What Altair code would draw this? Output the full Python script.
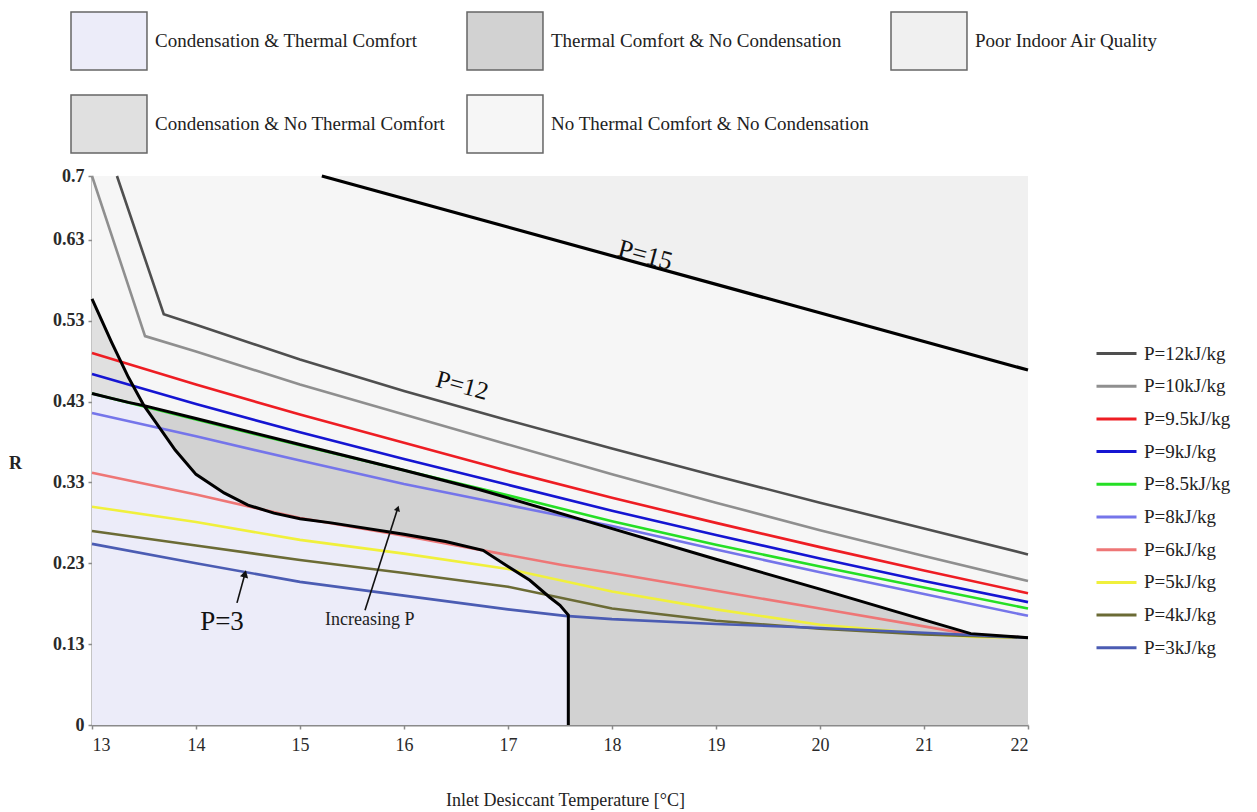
import altair as alt
import pandas as pd

# ---------------- data ----------------
SERIES = ["P=12kJ/kg", "P=10kJ/kg", "P=9.5kJ/kg", "P=9kJ/kg", "P=8.5kJ/kg",
          "P=8kJ/kg", "P=6kJ/kg", "P=5kJ/kg", "P=4kJ/kg", "P=3kJ/kg"]
COLORS = ["#4f4f4f", "#8f8f8f", "#ee1d23", "#1515d2", "#25df25",
          "#7575ea", "#ee7676", "#f0f03c", "#6b6b35", "#4b5cb3"]

T = [13, 14, 15, 16, 17, 18, 19, 20, 21, 22]

P12_X = [13.24, 13.69, 14, 15, 16, 17, 18, 19, 20, 21, 22]
P12_Y = [0.679, 0.508, 0.495, 0.452, 0.413, 0.377, 0.342, 0.308, 0.275, 0.243, 0.211]
P10_X = [13.0, 13.51, 14, 15, 16, 17, 18, 19, 20, 21, 22]
P10_Y = [0.679, 0.481, 0.462, 0.421, 0.384, 0.347, 0.310, 0.275, 0.241, 0.209, 0.178]
P95_Y = [0.460, 0.421, 0.384, 0.349, 0.314, 0.281, 0.250, 0.220, 0.191, 0.163]
P9_Y = [0.434, 0.397, 0.362, 0.329, 0.297, 0.265, 0.235, 0.206, 0.178, 0.152]
P85_Y = [0.410, 0.378, 0.346, 0.315, 0.284, 0.252, 0.223, 0.196, 0.170, 0.144]
P8_Y = [0.386, 0.357, 0.327, 0.298, 0.272, 0.246, 0.217, 0.189, 0.162, 0.135]
P6_X = [13, 14, 15, 16, 16.76, 17.52, 18, 19, 20, 21, 21.45, 22]
P6_Y = [0.312, 0.285, 0.256, 0.234, 0.216, 0.198, 0.188, 0.166, 0.144, 0.122, 0.112, 0.108]
P5_X = [13, 14, 15, 16, 17, 18, 19, 20, 21, 21.5, 22]
P5_Y = [0.270, 0.251, 0.229, 0.212, 0.193, 0.165, 0.143, 0.124, 0.113, 0.109, 0.108]
P4_Y = [0.240, 0.222, 0.204, 0.188, 0.171, 0.144, 0.129, 0.119, 0.112, 0.108]
P3_X = [13, 14, 15, 16, 17, 17.55, 18, 19, 20, 21, 22]
P3_Y = [0.224, 0.200, 0.177, 0.160, 0.143, 0.135, 0.131, 0.125, 0.120, 0.114, 0.108]

# black thermal-comfort boundary
BND_X = [13, 13.19, 13.35, 13.5, 14, 15, 16, 16.73, 17.92, 19, 20, 21, 21.45, 22]
BND_Y = [0.410, 0.404, 0.399, 0.395, 0.379, 0.347, 0.315, 0.291, 0.246, 0.205, 0.168, 0.130, 0.113, 0.108]
# black condensation curve
CUR_X = [13.0, 13.19, 13.35, 13.5, 13.61, 13.8, 14.0, 14.27, 14.5, 14.75, 15.0, 15.3,
         16.0, 16.4, 16.76, 17.0, 17.21, 17.4, 17.5, 17.58, 17.58]
CUR_Y = [0.527, 0.473, 0.430, 0.395, 0.375, 0.340, 0.310, 0.287, 0.272, 0.262, 0.255, 0.250,
         0.236, 0.227, 0.216, 0.196, 0.179, 0.158, 0.148, 0.136, 0.0]
# P=15 line
P15_X = [15.21, 22]
P15_Y = [0.679, 0.439]

# legend order (column-major in a 3-column legend)
REGIONS = ["Condensation & Thermal Comfort", "Condensation & No Thermal Comfort",
           "Thermal Comfort & No Condensation", "No Thermal Comfort & No Condensation",
           "Poor Indoor Air Quality"]
REGION_COLORS = ["#ececf9", "#e0e0e0", "#d2d2d2", "#f6f6f6", "#f0f0f0"]
CTC, CNTC, TCNC, NTCNC, PIAQ = REGIONS

X_TICKS = [13, 14, 15, 16, 17, 18, 19, 20, 21, 22]
Y_TICKS = [0, 0.1, 0.2, 0.3, 0.4, 0.5, 0.6, 0.679]
Y_LABELS = ["0", "0.13", "0.23", "0.33", "0.43", "0.53", "0.63", "0.7"]
Y_TOP = 0.679

FONT = "Liberation Serif"

# ---------------- tables ----------------
series_xy = [
    (P12_X, P12_Y), (P10_X, P10_Y), (T, P95_Y), (T, P9_Y), (T, P85_Y),
    (T, P8_Y), (P6_X, P6_Y), (P5_X, P5_Y), (T, P4_Y), (P3_X, P3_Y),
]
rows = []
for name, (xs, ys) in zip(SERIES, series_xy):
    for i, (a, b) in enumerate(zip(xs, ys)):
        rows.append({"series": name, "x": a, "y": b, "i": i})
lines_df = pd.DataFrame(rows)

def region_df(name, xs, ys, y2s):
    return pd.DataFrame({"region": name, "x": xs, "y": ys, "y2": y2s})

bg_df = region_df(NTCNC, [13, 22], [Y_TOP, Y_TOP], [0, 0])
piaq_df = region_df(PIAQ, P15_X, P15_Y, [Y_TOP, Y_TOP])
tcnc_df = region_df(TCNC, BND_X[3:], BND_Y[3:], [0] * len(BND_X[3:]))
ctc_df = region_df(CTC, [13] + CUR_X[3:-1], [BND_Y[0]] + CUR_Y[3:-1],
                   [0] * (len(CUR_X[3:-1]) + 1))
cntc_df = region_df(CNTC, CUR_X[:4], CUR_Y[:4], BND_Y[:4])

bnd_df = pd.DataFrame({"x": BND_X, "y": BND_Y, "i": range(len(BND_X))})
cur_df = pd.DataFrame({"x": CUR_X, "y": CUR_Y, "i": range(len(CUR_X))})
p15_df = pd.DataFrame({"x": P15_X, "y": P15_Y, "i": range(len(P15_X))})

labels_rot = pd.DataFrame({"x": [18.32, 16.56], "y": [0.581, 0.420], "t": ["P=15", "P=12"],
                           "s": [26, 25]})
labels_p3 = pd.DataFrame({"x": [14.25], "y": [0.127], "t": ["P=3"]})
labels_inc = pd.DataFrame({"x": [15.67], "y": [0.130], "t": ["Increasing P"]})

arrows = pd.DataFrame({"x": [14.394, 15.625], "y": [0.151, 0.142],
                       "x2": [14.471, 15.94], "y2": [0.187, 0.268],
                       "ang": [15, 18], "sz": [70, 40]})

# ---------------- encodings ----------------
y_expr = ""
for v, lab in zip(Y_TICKS, Y_LABELS):
    y_expr += f"abs(datum.value - {v}) < 0.001 ? '{lab}' : "
y_expr += "''"

X = alt.X("x:Q", scale=alt.Scale(domain=[13, 22], nice=False, zero=False),
          axis=alt.Axis(values=X_TICKS, format="d", title="Inlet Desiccant Temperature [°C]",
                        labelPadding=7, titleX=473, titleY=75, titleBaseline="middle",
                        titleFontWeight="normal"))
Y = alt.Y("y:Q", scale=alt.Scale(domain=[0, Y_TOP], nice=False, zero=False),
          axis=alt.Axis(values=Y_TICKS, labelExpr=y_expr, title="R", titleAngle=0,
                        titleX=-77, titleY=287, titleAlign="center", titleBaseline="middle",
                        labelFontWeight="bold", labelPadding=4, titleFontWeight="bold"))

fill_legend = alt.Legend(title=None, orient="none", legendX=-22, legendY=-165, columns=3,
                         symbolType="M-1,-1H1.62V1H-1Z", symbolSize=3364,
                         symbolStrokeColor="#666666", symbolStrokeWidth=1.5,
                         symbolOpacity=1, labelOffset=25, rowPadding=19, columnPadding=18,
                         labelFont=FONT, labelFontSize=19, labelColor="#222222",
                         labelLimit=500)
FILL = alt.Fill("region:N", scale=alt.Scale(domain=REGIONS, range=REGION_COLORS),
                legend=fill_legend)

def area_layer(df):
    return alt.Chart(df).mark_area(opacity=1, interpolate="linear").encode(
        x=X, y=Y, y2=alt.Y2("y2:Q"), fill=FILL)

color_legend = alt.Legend(title=None, orient="none", legendX=1003, legendY=156,
                          symbolType="stroke", symbolSize=1600, symbolStrokeWidth=3,
                          labelFont=FONT, labelFontSize=19, labelColor="#222222",
                          rowPadding=0.7, labelOffset=6, labelLimit=250)

lines = alt.Chart(lines_df).mark_line(strokeWidth=2.6).encode(
    x=X, y=Y, order=alt.Order("i:Q"),
    color=alt.Color("series:N", scale=alt.Scale(domain=SERIES, range=COLORS),
                    legend=color_legend))

def black_line(df, w=3):
    return alt.Chart(df).mark_line(color="black", strokeWidth=w).encode(
        x=X, y=Y, order=alt.Order("i:Q"))

rot_text = alt.Chart(labels_rot).mark_text(font=FONT, angle=15, color="#111111").encode(
    x=X, y=Y, text="t:N", size=alt.Size("s:Q", scale=None, legend=None))
p3_text = alt.Chart(labels_p3).mark_text(font=FONT, fontSize=27, color="#111111").encode(
    x=X, y=Y, text="t:N")
inc_text = alt.Chart(labels_inc).mark_text(font=FONT, fontSize=18, color="#222222").encode(
    x=X, y=Y, text="t:N")

arrow_lines = alt.Chart(arrows).mark_rule(color="#111111", strokeWidth=1.6).encode(
    x=X, y=Y, x2=alt.X2("x2:Q"), y2=alt.Y2("y2:Q"))
arrow_heads = alt.Chart(arrows).mark_point(shape="triangle-up", filled=True, color="#111111",
                                           opacity=1).encode(
    x=alt.X("x2:Q", scale=alt.Scale(domain=[13, 22], nice=False, zero=False)),
    y=alt.Y("y2:Q", scale=alt.Scale(domain=[0, Y_TOP], nice=False, zero=False)),
    angle=alt.Angle("ang:Q", scale=None),
    size=alt.Size("sz:Q", scale=None, legend=None))

chart = alt.layer(
    area_layer(bg_df), area_layer(piaq_df), area_layer(tcnc_df), area_layer(ctc_df),
    area_layer(cntc_df),
    lines, black_line(bnd_df), black_line(cur_df), black_line(p15_df, 3.2),
    rot_text, p3_text, inc_text, arrow_lines, arrow_heads,
).properties(
    width=936, height=549,
    autosize=alt.AutoSizeParams(type="none"),
    padding={"left": 92, "top": 176, "right": 229, "bottom": 87},
    background="white",
).configure_view(stroke=None).configure_axis(
    grid=False, domainColor="#8a8a8a", domainWidth=2, tickColor="#8a8a8a", tickWidth=1.5,
    tickSize=4, labelFont=FONT, labelFontSize=18, labelColor="#2a2a2a",
    titleFont=FONT, titleFontSize=18, titleColor="#222222",
)

chart.save("out.html", embed_options={"renderer": "svg", "actions": False})
